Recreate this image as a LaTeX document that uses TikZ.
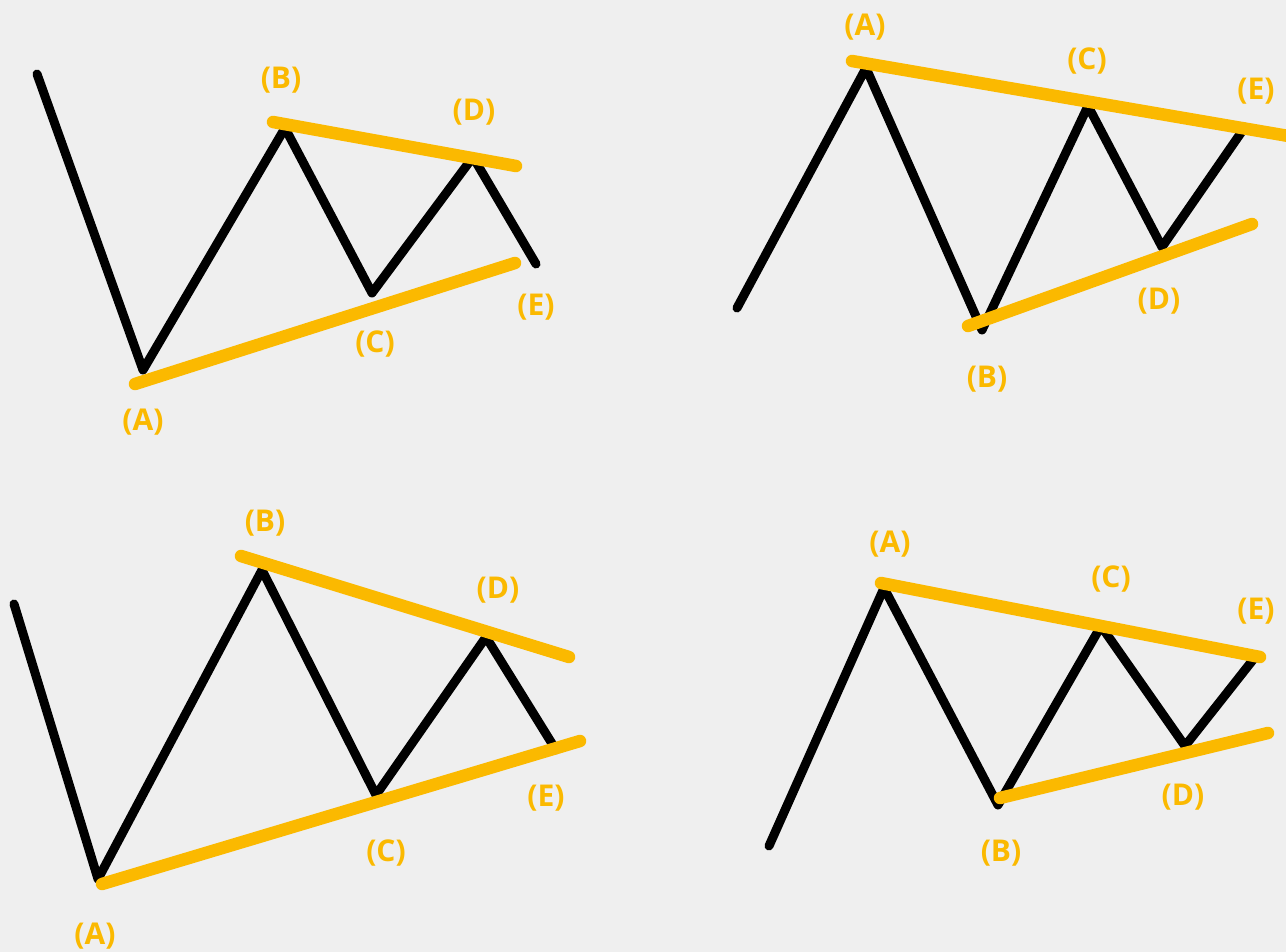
\documentclass[tikz,border=0pt]{standalone}
\usepackage{fontspec}
\setmainfont{Open Sans}
\definecolor{bg}{HTML}{EFEFEF}
\definecolor{gold}{HTML}{FBB900}
\begin{document}
\begin{tikzpicture}[x=1pt,y=-1pt,
  wave/.style={line width=9pt,line cap=round,line join=round,black},
  trend/.style={line width=12.5pt,line cap=round,gold},
  lbl/.style={text=gold,font=\fontsize{30}{32}\selectfont\bfseries,inner sep=0pt}]
\fill[bg] (0,0) rectangle (1286,952);
\useasboundingbox (0,0) rectangle (1286,952);
% Panel 1
\coordinate (p1a) at (37,74); \coordinate (p1b) at (143,370); \coordinate (p1c) at (285,128);
\coordinate (p1d) at (372,293); \coordinate (p1e) at (473,157); \coordinate (p1f) at (536,264);
\draw[wave] (p1a) -- (p1b) -- (p1c) -- (p1d) -- (p1e) -- (p1f);
\coordinate (t1a) at (135,384); \coordinate (t1b) at (515,263);
\coordinate (t1c) at (273,122); \coordinate (t1d) at (516,166);
\draw[trend] (t1a) -- (t1b); \draw[trend] (t1c) -- (t1d);
\node[lbl] (l1b) at (281,80) {(B)};
\node[lbl] (l1d) at (474,112) {(D)};
\node[lbl] (l1e) at (536,307) {(E)};
\node[lbl] (l1c) at (375,344) {(C)};
\node[lbl] (l1a) at (143,422) {(A)};
% Panel 2
\coordinate (p2a) at (737,308); \coordinate (p2b) at (866,68); \coordinate (p2c) at (982,330);
\coordinate (p2d) at (1088,106); \coordinate (p2e) at (1162,247); \coordinate (p2f) at (1245,127);
\draw[wave] (p2a) -- (p2b) -- (p2c) -- (p2d) -- (p2e) -- (p2f);
\coordinate (t2a) at (852,61); \coordinate (t2b) at (1300,138);
\coordinate (t2c) at (968,326); \coordinate (t2d) at (1252,224);
\begin{scope}
\clip (0,0) rectangle (1286,952);
\draw[trend] (t2a) -- (t2b);
\end{scope}
\draw[trend] (t2c) -- (t2d);
\node[lbl] (l2a) at (865,27) {(A)};
\node[lbl] (l2c) at (1087,61) {(C)};
\node[lbl] (l2e) at (1256,91) {(E)};
\node[lbl] (l2d) at (1159,301) {(D)};
\node[lbl] (l2b) at (987,379) {(B)};
% Panel 3
\coordinate (p3a) at (14,604); \coordinate (p3b) at (98,879); \coordinate (p3c) at (262,570);
\coordinate (p3d) at (376,795); \coordinate (p3e) at (486,637); \coordinate (p3f) at (556,750);
\draw[wave] (p3a) -- (p3b) -- (p3c) -- (p3d) -- (p3e) -- (p3f);
\coordinate (t3a) at (102,884); \coordinate (t3b) at (580,741);
\coordinate (t3c) at (241,556); \coordinate (t3d) at (569,657);
\draw[trend] (t3a) -- (t3b); \draw[trend] (t3c) -- (t3d);
\node[lbl] (l3b) at (265,523) {(B)};
\node[lbl] (l3d) at (498,590) {(D)};
\node[lbl] (l3e) at (546,798) {(E)};
\node[lbl] (l3c) at (386,853) {(C)};
\node[lbl] (l3a) at (95,936) {(A)};
% Panel 4
\coordinate (p4a) at (769,846); \coordinate (p4b) at (884,588); \coordinate (p4c) at (998,805);
\coordinate (p4d) at (1101,626); \coordinate (p4e) at (1185,746); \coordinate (p4f) at (1256,656);
\draw[wave] (p4a) -- (p4b) -- (p4c) -- (p4d) -- (p4e) -- (p4f);
\coordinate (t4a) at (881,583); \coordinate (t4b) at (1260,657);
\coordinate (t4c) at (1000,798); \coordinate (t4d) at (1268,733);
\draw[trend] (t4a) -- (t4b); \draw[trend] (t4c) -- (t4d);
\node[lbl] (l4a) at (890,544) {(A)};
\node[lbl] (l4c) at (1111,579) {(C)};
\node[lbl] (l4e) at (1256,611) {(E)};
\node[lbl] (l4d) at (1183,797) {(D)};
\node[lbl] (l4b) at (1001,853) {(B)};
\end{tikzpicture}
\end{document}
